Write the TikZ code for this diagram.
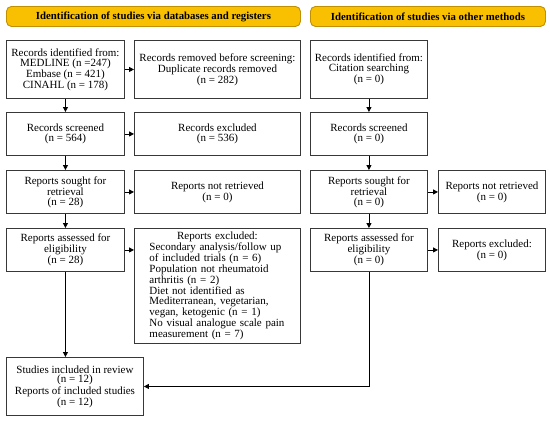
\documentclass[tikz,border=0pt]{standalone}
\usepackage{fontspec}
\setmainfont{Liberation Serif}
\usetikzlibrary{arrows.meta}
\definecolor{hdrfill}{HTML}{F8C000}
\definecolor{hdrline}{HTML}{C09000}
\definecolor{boxline}{HTML}{383838}
\tikzset{
  stagebox/.style={draw=boxline, line width=0.9pt, fill=white, anchor=north west,
    align=center, inner sep=2pt, font=\fontsize{11}{9.8}\selectfont},
  hdr/.style={draw=hdrline, line width=0.9pt, fill=hdrfill, rounded corners=5pt,
    anchor=north west, font=\fontsize{10.8}{11}\selectfont\bfseries},
  flow/.style={draw=black, line width=0.8pt, -{Triangle[length=5pt,width=5pt]}}
}
\begin{document}
\begin{tikzpicture}[x=1pt,y=-1pt]
\useasboundingbox (0,0) rectangle (550,421);
% headers
\node[hdr, minimum width=294, minimum height=20] (h1) at (6,6) {Identification of studies via databases and registers};
\node[hdr, minimum width=235, minimum height=20] (h2) at (310,6) {Identification of studies via other methods};
% left column
\node[stagebox, minimum width=118, minimum height=58] (id) at (6,40) {Records identified from:\\MEDLINE (n =247)\\Embase (n = 421)\\CINAHL (n = 178)};
\node[stagebox, minimum width=118, minimum height=43] (scr) at (6,112) {Records screened\\(n = 564)};
\node[stagebox, minimum width=118, minimum height=43] (sgt) at (6,170) {Reports sought for\\retrieval\\(n = 28)};
\node[stagebox, minimum width=118, minimum height=43] (asd) at (6,228) {Reports assessed for\\eligibility\\(n = 28)};
\node[stagebox, minimum width=137, minimum height=58] (inc) at (6,357) {Studies included in review\\(n = 12)\\Reports of included studies\\(n = 12)};
% middle column
\node[stagebox, minimum width=166, minimum height=58] (rem) at (134,40) {Records removed before screening:\\Duplicate records removed\\(n = 282)};
\node[stagebox, minimum width=166, minimum height=43] (exc) at (134,112) {Records excluded\\(n = 536)};
\node[stagebox, minimum width=166, minimum height=43] (nrt) at (134,170) {Reports not retrieved\\(n = 0)};
\node[stagebox, minimum width=166, minimum height=115, text width=136, align=left] (rex) at (134,228) {\hyphenpenalty=10000\makebox[\linewidth]{Reports excluded:}\\Secondary analysis/follow up\\of included trials (n = 6)\\Population not rheumatoid\\arthritis (n = 2)\\Diet not identified as\\Mediterranean, vegetarian,\\vegan, ketogenic (n = 1)\\No visual analogue scale pain\\measurement (n = 7)};
% right column
\node[stagebox, minimum width=117, minimum height=58] (oid) at (310,40) {Records identified from:\\Citation searching\\(n = 0)};
\node[stagebox, minimum width=117, minimum height=43] (oscr) at (310,112) {Records screened\\(n = 0)};
\node[stagebox, minimum width=117, minimum height=43] (osgt) at (310,170) {Reports sought for\\retrieval\\(n = 0)};
\node[stagebox, minimum width=117, minimum height=43] (oasd) at (310,228) {Reports assessed for\\eligibility\\(n = 0)};
\node[stagebox, minimum width=107, minimum height=43] (onrt) at (438,170) {Reports not retrieved\\(n = 0)};
\node[stagebox, minimum width=107, minimum height=43] (orex) at (438,228) {Reports excluded:\\(n = 0)};
% connectors left
\draw[flow] (id) -- (scr);
\draw[flow] (scr) -- (sgt);
\draw[flow] (sgt) -- (asd);
\draw[flow] (asd.south) -- (asd.south |- inc.north);
\draw[flow] (id) -- (rem);
\draw[flow] (scr) -- (exc);
\draw[flow] (sgt) -- (nrt);
\draw[flow] (asd.east) -- (asd.east -| rex.west);
% connectors right
\draw[flow] (oid) -- (oscr);
\draw[flow] (oscr) -- (osgt);
\draw[flow] (osgt) -- (oasd);
\draw[flow] (osgt) -- (onrt);
\draw[flow] (oasd) -- (orex);
\draw[flow] (oasd.south) |- (inc.east);
\end{tikzpicture}
\end{document}
